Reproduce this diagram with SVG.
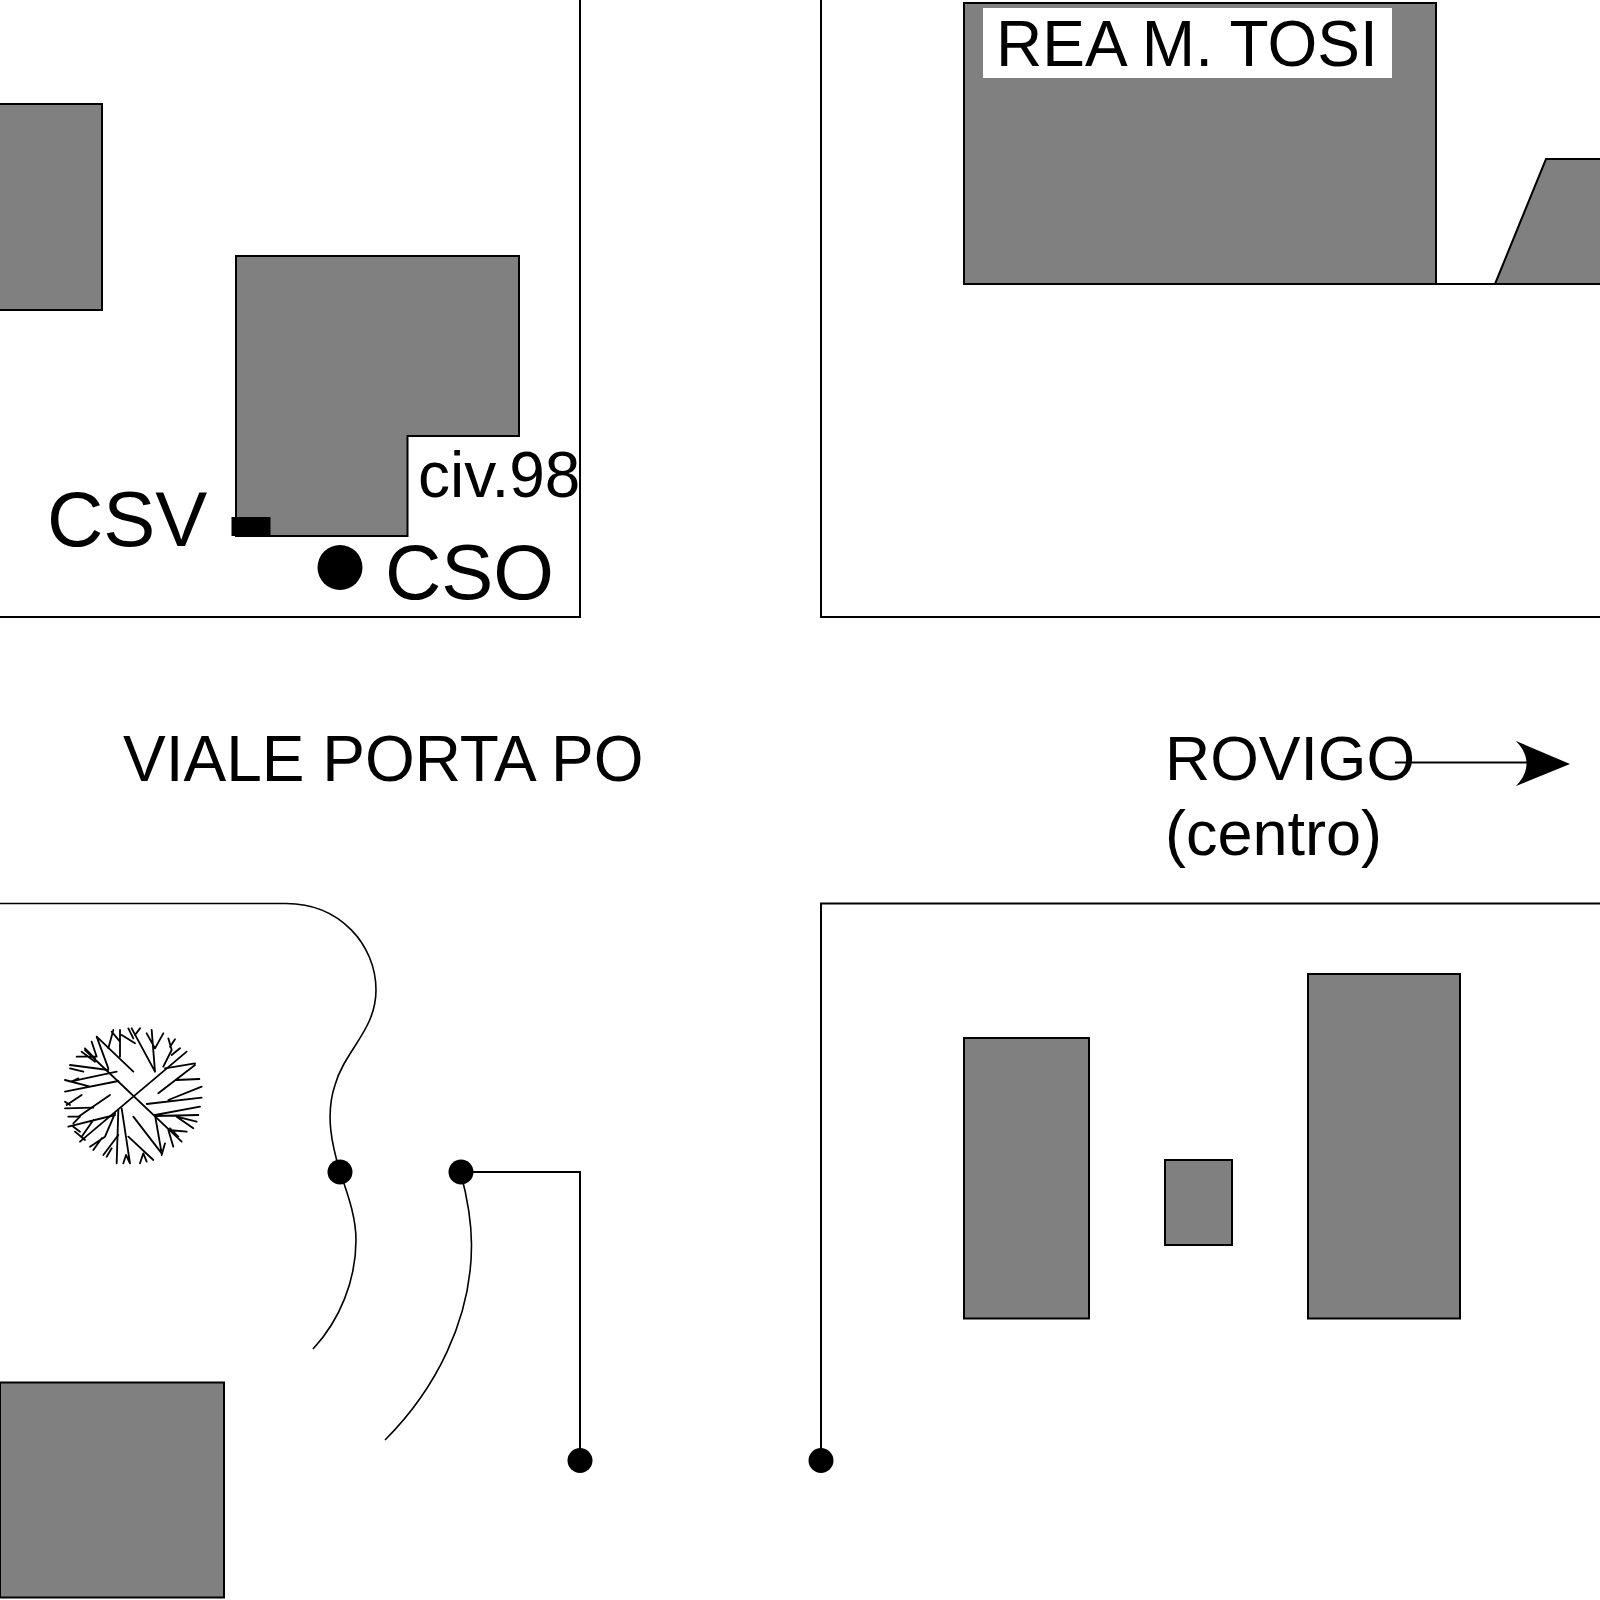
<svg xmlns="http://www.w3.org/2000/svg" width="1600" height="1600" viewBox="0 0 1600 1600">
<style>
.b{fill:#808080;stroke:#000;stroke-width:2;stroke-linejoin:miter}
.l{fill:none;stroke:#000;stroke-width:2}
.c{fill:none;stroke:#000;stroke-width:1.600}
.d{fill:#000}
text{font-family:"Liberation Sans",Arial,sans-serif;fill:#000}
.t path{fill:none;stroke:#000;stroke-width:5.500;stroke-linecap:round;stroke-linejoin:round}
</style>
<rect width="1600" height="1600" fill="#fff"/>
<g id="buildings">
<rect class="b" x="-3" y="104" width="105" height="206"/>
<path class="b" d="M236 256H519V436H407.500V536H236Z"/>
<path class="b" d="M964 3H1436V284H964Z"/>
<path class="b" d="M1495 284L1546 159H1603V284Z"/>
<rect class="b" x="964" y="1038" width="125" height="280.500"/>
<rect class="b" x="1165" y="1160" width="67" height="85"/>
<rect class="b" x="1308" y="974" width="152" height="344.500"/>
<rect class="b" x="0" y="1382.500" width="224" height="215"/>
</g>
<g id="streets">
<path class="l" d="M580 0V617H0"/>
<path class="l" d="M821 0V617H1600"/>
<path class="l" d="M964 284H1600"/>
<path class="c" d="M0 903.500H286C340 903.500 376 945 376 990C376 1030 345 1050 335 1085C325 1115 332 1145 340 1172C350 1200 356 1220 356 1240C356 1280 340 1320 313 1349"/>
<path class="c" d="M460.500 1172C468 1200 471.500 1220 471.500 1245C471.500 1320 435 1390 385 1440"/>
<path class="l" d="M460.500 1172H580V1460"/>
<path class="l" d="M1600 903.500H821V1460"/>
</g>
<g id="dots">
<circle class="d" cx="340" cy="1172" r="12.500"/>
<circle class="d" cx="461" cy="1172" r="12.500"/>
<circle class="d" cx="580" cy="1460.500" r="12.500"/>
<circle class="d" cx="821" cy="1460.500" r="12.500"/>
</g>
<g id="markers">
<rect class="d" x="231.500" y="517" width="39" height="19"/>
<circle class="d" cx="340" cy="567.500" r="22.500"/>
</g>
<g id="tree" class="t" transform="translate(40 1000) scale(.33333)">
<path d="M135 150L425 425M440 155L120 425"/>
<path d="M170 110L280 215M170 110L205 205M110 170H170M125 155L165 185M135 145L165 175M155 125L170 170"/>
<path d="M220 90L205 145M215 95L240 125M240 90V170M245 105L285 130M265 85L280 115M275 85L345 215M300 85L285 105M320 100L345 145M335 90L345 215M370 100L345 145"/>
<path d="M465 195L355 280M478 237L410 240M385 115L395 150L370 200M405 118L390 140M420 145L395 165M375 205L465 190"/>
<path d="M485 260L385 300M485 293L320 312M480 320L345 345M475 345L345 348M470 365L410 350M460 385L410 350M440 395L385 390M415 410L390 385M400 440L385 390"/>
<path d="M345 345L365 460M280 350L365 460M375 430L365 465M340 480L265 410M300 490L310 460L320 485M245 325L270 490M235 330L230 490M250 490L258 465L270 490"/>
<path d="M235 405L190 465M215 445L200 470M225 340L195 410L150 440M185 415L160 450M225 345L85 380M210 285L115 350M160 360L125 410M120 350L100 370M85 350H115M120 395L100 380M135 420L105 395"/>
<path d="M75 325L160 323M125 285L80 315M75 305L90 315M235 243L75 275M230 215L90 245M205 210L90 195M90 205L130 215M75 240L150 260M95 245L115 235"/>
</g>
<g id="labels">
<rect x="983" y="8" width="409" height="70" fill="#fff"/>
<text x="996" y="66" font-size="64">REA M. TOSI</text>
<text x="47" y="546" font-size="78">CSV</text>
<text x="385" y="599" font-size="78">CSO</text>
<text x="418" y="497" font-size="64">civ.98</text>
<text x="123" y="781" font-size="64">VIALE PORTA PO</text>
<text x="1165" y="780" font-size="62.500">ROVIGO</text>
<text x="1165" y="855" font-size="63">(centro)</text>
</g>
<g id="arrow">
<path class="l" d="M1395 762.500H1530"/>
<path class="d" d="M1570 764L1516 741C1530 755 1530 772 1516 786Z"/>
</g>
</svg>
